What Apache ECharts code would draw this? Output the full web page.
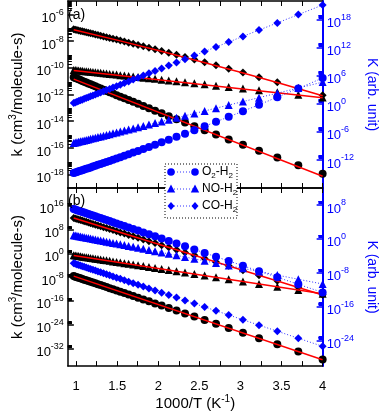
<!DOCTYPE html>
<html><head><meta charset="utf-8">
<script src="https://cdn.jsdelivr.net/npm/echarts@6/dist/echarts.min.js"></script>
<style>html,body{margin:0;padding:0;background:#fff}#c{width:387px;height:412px}</style>
</head><body><div id="c"></div><script>
// Temperatures (K); x = 1000/T
const T = [1030,1010,990,970,950,930,910,890,870,850,830,810,790,770,750,730,710,690,670,650,630,610,590,570,550,530,510,490,470,450,430,410,390,370,350,330,310,290,270,250];

// Panel (a): log10 of k (left axis) and K (right axis)
const a_k_O2 = [-10.71,-10.76,-10.81,-10.86,-10.92,-10.98,-11.04,-11.10,-11.17,-11.24,-11.31,-11.39,-11.47,-11.55,-11.64,-11.73,-11.83,-11.93,-12.05,-12.16,-12.28,-12.41,-12.55,-12.70,-12.86,-13.03,-13.21,-13.41,-13.62,-13.85,-14.10,-14.37,-14.67,-15.00,-15.36,-15.76,-16.21,-16.72,-17.29,-17.94];
const a_k_NO = [-10.16,-10.17,-10.19,-10.20,-10.22,-10.23,-10.25,-10.26,-10.28,-10.30,-10.32,-10.34,-10.36,-10.38,-10.41,-10.43,-10.46,-10.49,-10.51,-10.55,-10.58,-10.61,-10.65,-10.69,-10.74,-10.78,-10.83,-10.89,-10.95,-11.01,-11.08,-11.16,-11.24,-11.34,-11.44,-11.56,-11.69,-11.84,-12.02,-12.22];
const a_k_CO = [-7.12,-7.15,-7.18,-7.21,-7.24,-7.27,-7.31,-7.34,-7.38,-7.42,-7.46,-7.51,-7.55,-7.60,-7.65,-7.71,-7.77,-7.83,-7.89,-7.96,-8.04,-8.12,-8.20,-8.29,-8.39,-8.50,-8.61,-8.74,-8.88,-9.03,-9.20,-9.38,-9.58,-9.81,-10.07,-10.36,-10.70,-11.08,-11.53,-12.06];
const a_K_O2 = [-14.79,-14.68,-14.56,-14.44,-14.31,-14.18,-14.04,-13.90,-13.75,-13.59,-13.42,-13.24,-13.05,-12.86,-12.65,-12.43,-12.20,-11.95,-11.68,-11.41,-11.10,-10.78,-10.43,-10.07,-9.66,-9.23,-8.75,-8.24,-7.68,-7.06,-6.38,-5.63,-4.79,-3.84,-2.78,-1.58,-0.19,1.42,3.30,5.53];
const a_K_NO = [-8.37,-8.29,-8.20,-8.11,-8.02,-7.92,-7.82,-7.71,-7.60,-7.49,-7.36,-7.23,-7.10,-6.96,-6.81,-6.65,-6.49,-6.31,-6.13,-5.93,-5.72,-5.50,-5.26,-5.00,-4.73,-4.43,-4.11,-3.77,-3.39,-2.99,-2.54,-2.06,-1.52,-0.92,-0.26,0.48,1.33,2.28,3.38,4.65];
const a_K_CO = [0.18,0.31,0.45,0.60,0.75,0.90,1.07,1.24,1.41,1.60,1.80,2.01,2.22,2.45,2.69,2.94,3.20,3.49,3.79,4.10,4.44,4.80,5.19,5.60,6.04,6.52,7.03,7.58,8.19,8.84,9.56,10.34,11.20,12.17,13.23,14.43,15.78,17.32,19.09,21.14];
// Panel (a) fits (red)
const fitX2 = [0.971, 4.0];
const fitX7 = [0.971, 1.5, 2.0, 2.5, 3.0, 3.5, 4.0];
const a_fit_O2 = [-10.85, -18.12];
const a_fit_NO = [-10.20, -12.24];
const a_fit_CO = [-7.15, -7.93, -8.71, -9.51, -10.34, -11.20, -12.09];

// Panel (b)
const b_k_CO = [11.90,11.74,11.57,11.39,11.20,11.01,10.81,10.59,10.38,10.15,9.90,9.64,9.38,9.10,8.80,8.49,8.16,7.81,7.44,7.05,6.63,6.19,5.71,5.21,4.66,4.07,3.44,2.75,2.01,1.20,0.31,-0.65,-1.72,-2.91,-4.23,-5.70,-7.38,-9.28,-11.47,-14.00];
const b_k_NO = [-0.68,-0.76,-0.85,-0.94,-1.03,-1.12,-1.23,-1.33,-1.44,-1.56,-1.68,-1.81,-1.94,-2.08,-2.23,-2.38,-2.55,-2.72,-2.91,-3.10,-3.31,-3.53,-3.77,-4.02,-4.30,-4.59,-4.91,-5.25,-5.62,-6.02,-6.47,-6.95,-7.48,-8.08,-8.73,-9.47,-10.31,-11.26,-12.35,-13.61];
const b_k_O2 = [-7.68,-7.86,-8.04,-8.24,-8.44,-8.65,-8.87,-9.10,-9.33,-9.58,-9.85,-10.13,-10.42,-10.72,-11.04,-11.38,-11.74,-12.12,-12.52,-12.94,-13.40,-13.88,-14.40,-14.95,-15.54,-16.18,-16.87,-17.61,-18.42,-19.29,-20.25,-21.30,-22.46,-23.75,-25.18,-26.79,-28.61,-30.67,-33.04,-35.79];
const b_K_O2 = [7.03,6.91,6.78,6.64,6.50,6.36,6.20,6.04,5.87,5.70,5.51,5.32,5.11,4.90,4.68,4.44,4.19,3.93,3.64,3.35,3.03,2.69,2.33,1.95,1.53,1.08,0.60,0.09,-0.48,-1.09,-1.76,-2.50,-3.31,-4.21,-5.21,-6.33,-7.61,-9.05,-10.71,-12.63];
const b_K_NO = [0.87,0.80,0.72,0.64,0.56,0.47,0.38,0.29,0.19,0.09,-0.02,-0.13,-0.25,-0.38,-0.51,-0.65,-0.79,-0.95,-1.11,-1.28,-1.47,-1.67,-1.88,-2.11,-2.35,-2.61,-2.89,-3.20,-3.53,-3.88,-4.28,-4.71,-5.18,-5.71,-6.30,-6.95,-7.70,-8.54,-9.52,-10.64];
const b_K_CO = [-5.77,-5.89,-6.02,-6.16,-6.30,-6.44,-6.60,-6.76,-6.92,-7.09,-7.28,-7.48,-7.68,-7.89,-8.11,-8.35,-8.59,-8.86,-9.14,-9.43,-9.75,-10.09,-10.45,-10.83,-11.24,-11.69,-12.17,-12.68,-13.24,-13.85,-14.52,-15.25,-16.06,-16.96,-17.95,-19.07,-20.34,-21.77,-23.43,-25.34];
const b_fit_CO = [11.90, -14.05];
const b_fit_NO = [-0.72, -13.65];
const b_fit_O2 = [-7.70, -35.85];

// Tick values / labels
const xTicks = [1,1.25,1.5,1.75,2,2.25,2.5,2.75,3,3.25,3.5,3.75,4];
const xTickLabels = [1,1.5,2,2.5,3,3.5,4];
const a_leftExp = [-18,-16,-14,-12,-10,-8,-6];
const a_rightExp = [-12,-6,0,6,12,18];
const b_leftExp = [-32,-24,-16,-8,0,8,16];
const b_rightExp = [-24,-16,-8,0,8];
const legendNames = ['O{s|2}-H{s|2}', 'NO-H{s|2}', 'CO-H{s|2}'];

const BLUE = '#0000ff';
const FONT = '"Liberation Sans", Arial, Helvetica, sans-serif';
const xs = T.map(t => 1000 / t);
const pts = arr => arr.map((v, i) => [xs[i], v]);
const fitPts = (x, arr) => arr.map((v, i) => [x[i], v]);
const minors = exps => { const out = []; exps.forEach(n => { for (let m = 2; m <= 9; m++) out.push(n + Math.log10(m)); }); return out; };

function expLabel(color, list) {
  return {
    show: true, customValues: list, margin: 4,
    formatter: v => '{b|10}{s|' + String(Math.round(v)) + '}',
    rich: { b: {fontSize: 13, color, fontFamily: FONT, padding: [8,0,0,0]}, s: {fontSize: 9, color, fontFamily: FONT, padding: [0,0,4,0]} }
  };
}
function yMain(grid, pos, min, max, exps, color, lw) {
  return {
    type: 'value', gridIndex: grid, position: pos, min, max,
    axisLine: {show: true, onZero: false, lineStyle: {color, width: lw}},
    axisTick: {show: true, inside: true, length: 6, customValues: exps, lineStyle: {color, width: 1.5}},
    axisLabel: expLabel(color, exps),
    splitLine: {show: false}
  };
}
function yMinor(grid, pos, min, max, exps, color) {
  return {
    type: 'value', gridIndex: grid, position: pos, min, max,
    axisLine: {show: false, onZero: false},
    axisTick: {show: true, inside: true, length: 4, customValues: minors(exps).filter(v => v > min && v < max), lineStyle: {color, width: 1}},
    axisLabel: {show: false}, splitLine: {show: false}
  };
}
function xAx(grid, pos, labels) {
  const ax = {
    type: 'value', gridIndex: grid, position: pos, min: 0.9, max: 4,
    axisLine: {show: true, onZero: false, lineStyle: {color: '#000', width: 1.5}},
    axisTick: {show: true, inside: true, length: 5, customValues: xTicks, lineStyle: {color: '#000', width: 1}},
    axisLabel: {show: false}, splitLine: {show: false}
  };
  if (labels) {
    ax.axisLabel = {show: true, customValues: xTickLabels, margin: 14, fontSize: 13, color: '#000', fontFamily: FONT};
    ax.name = '1000/T (K{s|-1})';
    ax.nameLocation = 'middle';
    ax.nameGap = 25;
    ax.nameTextStyle = {fontSize: 15, color: '#000', fontFamily: FONT, rich: {s: {fontSize: 10, fontFamily: FONT, color: '#000', padding: [0,0,9,0]}}};
  }
  return ax;
}

const yAxes = [
  yMain(0, 'left', -19, -5, a_leftExp, '#000', 1.5),
  yMinor(0, 'left', -19, -5, a_leftExp, '#000'),
  yMain(0, 'right', -18, 22, a_rightExp, BLUE, 2),
  yMinor(0, 'right', -18, 22, a_rightExp, BLUE),
  yMain(1, 'left', -38, 22, b_leftExp, '#000', 1.5),
  yMinor(1, 'left', -38, 22, b_leftExp, '#000'),
  yMain(1, 'right', -30, 12, b_rightExp, BLUE, 2),
  yMinor(1, 'right', -30, 12, b_rightExp, BLUE)
];
const kName = 'k (cm{s|3}/molecule-s)';
const kStyle = {fontSize: 15, color: '#000', fontFamily: FONT, rich: {s: {fontSize: 10, color: '#000', fontFamily: FONT, padding: [0,0,10,0]}}};
const KStyle = {fontSize: 14, color: BLUE, fontFamily: FONT};
[0, 4].forEach(i => Object.assign(yAxes[i], {name: kName, nameLocation: 'middle', nameGap: 33, nameTextStyle: kStyle}));
[2, 6].forEach(i => Object.assign(yAxes[i], {name: 'K (arb. unit)', nameLocation: 'middle', nameGap: 41, nameRotate: -90, nameTextStyle: KStyle}));

function black(data, symbol, size, xi, yi) {
  return {type: 'scatter', xAxisIndex: xi, yAxisIndex: yi, data, symbol, symbolSize: size, itemStyle: {color: '#000', opacity: 1}, z: 2, silent: true};
}
function red(data, xi, yi) {
  return {type: 'line', xAxisIndex: xi, yAxisIndex: yi, data, symbol: 'none', lineStyle: {color: '#ff0000', width: 1.5}, z: 3, silent: true};
}
function blue(data, symbol, size, xi, yi) {
  return {type: 'line', xAxisIndex: xi, yAxisIndex: yi, data, symbol, symbolSize: size, showAllSymbol: true,
    itemStyle: {color: BLUE, opacity: 1}, lineStyle: {color: BLUE, width: 1, type: [1, 2], opacity: 0.8}, z: 4, silent: true};
}

const series = [
  black(pts(a_k_O2), 'circle', 8, 0, 0),
  black(pts(a_k_NO), 'triangle', 8, 0, 0),
  black(pts(a_k_CO), 'diamond', 8, 0, 0),
  red(fitPts(fitX2, a_fit_O2), 0, 0),
  red(fitPts(fitX2, a_fit_NO), 0, 0),
  red(fitPts(fitX7, a_fit_CO), 0, 0),
  blue(pts(a_K_O2), 'circle', 8, 0, 2),
  blue(pts(a_K_NO), 'triangle', 8, 0, 2),
  blue(pts(a_K_CO), 'diamond', 8, 0, 2),
  black(pts(b_k_O2), 'circle', 8, 2, 4),
  black(pts(b_k_NO), 'triangle', 8, 2, 4),
  black(pts(b_k_CO), 'diamond', 8, 2, 4),
  red(fitPts(fitX2, b_fit_O2), 2, 4),
  red(fitPts(fitX2, b_fit_NO), 2, 4),
  red(fitPts(fitX2, b_fit_CO), 2, 4),
  blue(pts(b_K_O2), 'circle', 8, 2, 6),
  blue(pts(b_K_NO), 'triangle', 8, 2, 6),
  blue(pts(b_K_CO), 'diamond', 8, 2, 6)
];

// Legend drawn as graphic (symbol at both ends of a dotted line)
const legendRows = [172, 189, 206];
const legendSymbols = ['circle', 'triangle', 'diamond'];
function sym(kind, cx, cy) {
  if (kind === 'circle') return {type: 'circle', shape: {cx, cy, r: 3.8}, style: {fill: BLUE}, z: 101};
  if (kind === 'triangle') return {type: 'polygon', shape: {points: [[cx, cy-4.5],[cx+4.2, cy+3.5],[cx-4.2, cy+3.5]]}, style: {fill: BLUE}, z: 101};
  return {type: 'polygon', shape: {points: [[cx, cy-4],[cx+3.5, cy],[cx, cy+4],[cx-3.5, cy]]}, style: {fill: BLUE}, z: 101};
}
const graphic = [
  {type: 'text', left: 68, top: 8, style: {text: '(a)', fontSize: 14, fill: '#000', fontFamily: FONT}, z: 100},
  {type: 'text', left: 68, top: 194, style: {text: '(b)', fontSize: 14, fill: '#000', fontFamily: FONT}, z: 100},
  {type: 'rect', shape: {x: 165, y: 164, width: 72, height: 54}, style: {fill: '#fff', stroke: '#000', lineWidth: 1, lineDash: [1, 2]}, z: 100}
];
legendRows.forEach((y, i) => {
  graphic.push({type: 'line', shape: {x1: 171, y1: y, x2: 195, y2: y}, style: {stroke: BLUE, lineWidth: 1, lineDash: [1, 2], opacity: 0.8}, z: 101});
  graphic.push(sym(legendSymbols[i], 171, y));
  graphic.push(sym(legendSymbols[i], 195, y));
  graphic.push({type: 'text', x: 202, y: y, style: {text: legendNames[i], fontSize: 12, fill: '#000', fontFamily: FONT, verticalAlign: 'middle',
    rich: {s: {fontSize: 8, fill: '#000', fontFamily: FONT, padding: [7, 0, 0, 0]}}}, z: 101});
});

const chart = echarts.init(document.getElementById('c'), null, {renderer: 'canvas'});
chart.setOption({
  animation: false,
  backgroundColor: '#fff',
  textStyle: {fontFamily: FONT},
  grid: [
    {left: 54, width: 281, top: 1, height: 187},
    {left: 54, width: 281, top: 188, height: 186}
  ],
  xAxis: [xAx(0, 'bottom', false), xAx(0, 'top', false), xAx(1, 'bottom', true), xAx(1, 'top', false)],
  yAxis: yAxes,
  series,
  graphic
});
</script></body></html>
